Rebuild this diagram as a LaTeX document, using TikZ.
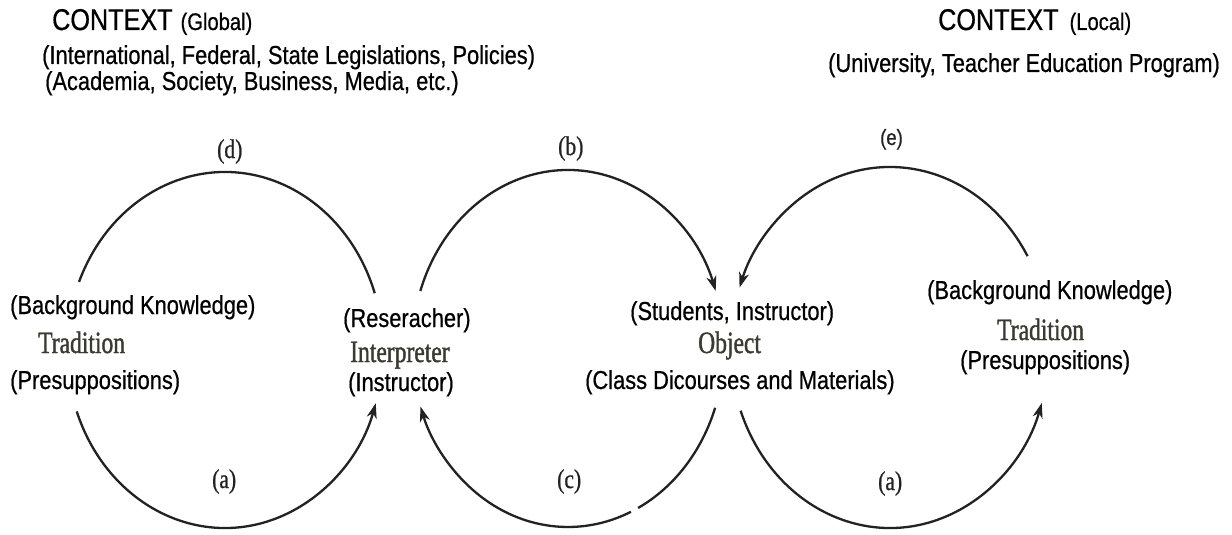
\documentclass[tikz,border=0pt]{standalone}
\usepackage{fontspec}
\setmainfont{Liberation Sans}[FakeStretch=0.84,FakeBold=0.6]
\newfontfamily\condserif{Liberation Serif}[FakeStretch=0.76,FakeBold=1.2]
\newfontfamily\lblserif{Liberation Serif}[FakeStretch=0.8,FakeBold=0.8]
\usetikzlibrary{arrows.meta,calc}
\definecolor{ink}{HTML}{222222}
\definecolor{olivetxt}{HTML}{3A3A30}
\begin{document}
\begin{tikzpicture}[x=1pt,y=1pt,
  sanstxt/.style={inner sep=0pt, anchor=base west, font=\fontsize{26}{30}\selectfont, text=black},
  bigword/.style={inner sep=0pt, anchor=base west, font=\condserif\fontsize{31}{34}\selectfont, text=olivetxt},
  lbl/.style={inner sep=0pt, anchor=base west, font=\lblserif\fontsize{27}{30}\selectfont, text=ink},
  slbl/.style={inner sep=0pt, anchor=base west, font=\fontsize{22}{25}\selectfont, text=ink},
  conn/.style={draw=ink, line width=2.3pt},
  tip/.style={-{Stealth[length=15pt,width=10pt,inset=4.5pt]}}
]
\useasboundingbox (0,0) rectangle (1232,-535);
\fill[white] (0,0) rectangle (1232,-535);

% context texts
\node[sanstxt] (ctxg) at (52,-30) {\fontsize{30}{33}\selectfont CONTEXT\hspace{8pt}\fontsize{24}{27}\selectfont(Global)};
\node[sanstxt] (glob1) at (42,-64) {(International, Federal, State Legislations, Policies)};
\node[sanstxt] (glob2) at (45,-90) {(Academia, Society, Business, Media, etc.)};
\node[sanstxt] (ctxl) at (938,-30) {\fontsize{30}{33}\selectfont CONTEXT\hspace{11pt}\fontsize{24}{27}\selectfont(Local)};
\node[sanstxt] (loc1) at (828,-72) {(University, Teacher Education Program)};

% left tradition
\node[sanstxt] (bgL) at (10,-314) {(Background Knowledge)};
\node[bigword] (tradL) at (38,-353) {Tradition};
\node[sanstxt] (preL) at (10,-389) {(Presuppositions)};
% interpreter
\node[sanstxt] (resI) at (343,-327) {(Reseracher)};
\node[bigword] (interp) at (350,-362) {Interpreter};
\node[sanstxt] (insI) at (348,-391) {(Instructor)};
% object
\node[sanstxt] (stuO) at (630,-320) {(Students, Instructor)};
\node[bigword] (obj) at (698,-353) {Object};
\node[sanstxt] (clsO) at (585,-389) {(Class Dicourses and Materials)};
% right tradition
\node[sanstxt] (bgR) at (927,-299) {(Background Knowledge)};
\node[bigword] (tradR) at (997,-340) {Tradition};
\node[sanstxt] (preR) at (960,-369) {(Presuppositions)};

% arc labels
\node[lbl] (ld) at (217,-158) {(d)};
\node[lbl] (la1) at (212,-488) {(a)};
\node[lbl] (lb) at (558,-155) {(b)};
\node[lbl] (lc) at (557,-488) {(c)};
\node[slbl] (le) at (880,-145) {(e)};
\node[lbl] (la2) at (878,-490) {(a)};

% circle centres
\coordinate (cL) at (225,-350);
\coordinate (cM) at (568,-348.5);
\coordinate (cR) at (890,-347.5);

% arc start points
\path (cL) ++(157.5:158pt and 178pt) coordinate (dS);
\path (cL) ++(200.2:158pt and 178pt) coordinate (aLS);
\path (cM) ++(161.2:156pt and 178.5pt) coordinate (bS);
\path (cM) ++(340.6:156pt and 178.5pt) coordinate (cS);
\path (cM) ++(293.8:156pt and 178.5pt) coordinate (cS2);
\path (cR) ++(30.4:159.5pt and 180.5pt) coordinate (eS);
\path (cR) ++(200.5:159.5pt and 180.5pt) coordinate (aRS);

% arcs
\draw[conn] (dS) arc[start angle=157.5, end angle=18.6, x radius=158pt, y radius=178pt];
\draw[conn,tip] (aLS) arc[start angle=200.2, end angle=342.6, x radius=158pt, y radius=178pt];
\draw[conn,tip] (bS) arc[start angle=161.2, end angle=18.8, x radius=156pt, y radius=178.5pt];
\draw[conn] (cS) arc[start angle=340.6, end angle=296.7, x radius=156pt, y radius=178.5pt];
\draw[conn,tip] (cS2) arc[start angle=293.8, end angle=199, x radius=156pt, y radius=178.5pt];
\draw[conn,tip] (eS) arc[start angle=30.4, end angle=160.6, x radius=159.5pt, y radius=180.5pt];
\draw[conn,tip] (aRS) arc[start angle=200.5, end angle=342.1, x radius=159.5pt, y radius=180.5pt];
\end{tikzpicture}
\end{document}
